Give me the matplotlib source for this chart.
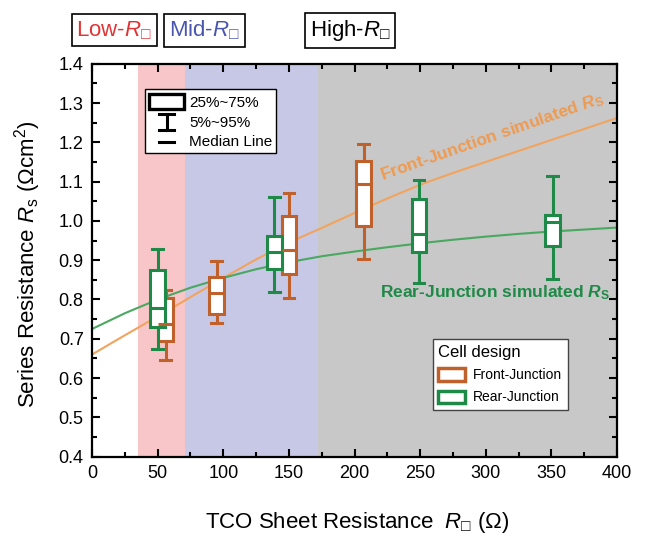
import matplotlib
matplotlib.use('Agg')
import matplotlib.pyplot as plt
from matplotlib.patches import Rectangle, Patch
from matplotlib.lines import Line2D
from matplotlib.ticker import MultipleLocator

plt.rcParams['font.family'] = ['Liberation Sans', 'DejaVu Sans']
plt.rcParams['mathtext.fontset'] = 'custom'
plt.rcParams['mathtext.rm'] = 'Liberation Sans'
plt.rcParams['mathtext.it'] = 'Liberation Sans:italic'
plt.rcParams['mathtext.bf'] = 'Liberation Sans:bold'
plt.rcParams['mathtext.bfit'] = 'Liberation Sans:italic:bold'
plt.rcParams['mathtext.fallback'] = 'stixsans'

# simulated Rs curves
sim_x = [0, 25, 50, 75, 100, 125, 150, 175, 200, 225, 250, 275, 300, 325, 350, 375, 400]
front_sim = [0.660, 0.709, 0.757, 0.806, 0.855, 0.902, 0.945, 0.982, 1.020, 1.057, 1.092,
             1.122, 1.150, 1.178, 1.206, 1.234, 1.262]
rear_sim = [0.725, 0.765, 0.800, 0.830, 0.855, 0.877, 0.895, 0.910, 0.922, 0.933, 0.943,
            0.952, 0.960, 0.967, 0.973, 0.978, 0.983]

# measured box plots: 5%, 25%, median, 75%, 95%
front_x = [56, 95, 150, 207]
front_lo = [0.645, 0.740, 0.803, 0.902]
front_q1 = [0.694, 0.763, 0.866, 0.986]
front_med = [0.737, 0.816, 0.927, 1.094]
front_q3 = [0.803, 0.858, 1.012, 1.152]
front_hi = [0.825, 0.899, 1.071, 1.195]

rear_x = [50, 139, 249, 351]
rear_lo = [0.675, 0.819, 0.843, 0.853]
rear_q1 = [0.731, 0.877, 0.922, 0.937]
rear_med = [0.778, 0.921, 0.966, 0.996]
rear_q3 = [0.876, 0.962, 1.056, 1.016]
rear_hi = [0.929, 1.060, 1.105, 1.113]

# Rsheet regimes
region_edges = [35, 71, 172.5, 400]
region_names = ['Low', 'Mid', 'High']

orange = '#c0602a'
green = '#1f8a48'
orange_line = '#f2a45e'
green_line = '#4aa860'
region_colors = ['#f8c6c8', '#c6c8e6', '#c8c8c8']
region_text_colors = ['#e03535', '#4a55b0', 'black']


def make_stats(lo, q1, med, q3, hi):
    return [dict(whislo=a, q1=b, med=c, q3=d, whishi=e, fliers=[])
            for a, b, c, d, e in zip(lo, q1, med, q3, hi)]


fig = plt.figure(figsize=(6.64, 5.4), dpi=100)
ax = fig.add_axes([0.1386, 0.1543, 0.7906, 0.7277])

for i in range(3):
    ax.axvspan(region_edges[i], region_edges[i + 1], color=region_colors[i], lw=0, zorder=0)

ax.plot(sim_x, front_sim, color=orange_line, lw=1.5, zorder=2)
ax.plot(sim_x, rear_sim, color=green_line, lw=1.5, zorder=2)

for stats, xs, c in [(make_stats(front_lo, front_q1, front_med, front_q3, front_hi), front_x, orange),
                     (make_stats(rear_lo, rear_q1, rear_med, rear_q3, rear_hi), rear_x, green)]:
    ax.bxp(stats, positions=xs, widths=11, capwidths=8, patch_artist=True, showfliers=False,
           boxprops=dict(facecolor='white', edgecolor=c, linewidth=2.2),
           whiskerprops=dict(color=c, linewidth=2.2),
           capprops=dict(color=c, linewidth=2.2),
           medianprops=dict(color=c, linewidth=2.2),
           manage_ticks=False, zorder=4)

ax.set_xlim(0, 400)
ax.set_ylim(0.4, 1.4)
ax.xaxis.set_major_locator(MultipleLocator(50))
ax.xaxis.set_minor_locator(MultipleLocator(25))
ax.yaxis.set_major_locator(MultipleLocator(0.1))
ax.yaxis.set_minor_locator(MultipleLocator(0.05))
ax.yaxis.set_major_formatter(matplotlib.ticker.FormatStrFormatter('%.1f'))
ax.tick_params(which='both', direction='in', top=True, right=True, width=1.5)
ax.tick_params(which='major', length=6, labelsize=13, pad=6)
ax.tick_params(which='minor', length=3.5)
for s in ax.spines.values():
    s.set_linewidth(1.6)

ax.set_ylabel(r'Series Resistance $R_\mathrm{s}$ ($\Omega$cm$^2$)', fontsize=16)
ax.yaxis.set_label_coords(-0.093, 0.49)
ax.set_xlabel('TCO Sheet Resistance  $R_{□}$ ($\\Omega$)', fontsize=16)
ax.xaxis.set_label_coords(0.505, -0.135)

# curve annotations
ax.text(305, 1.214, r'Front-Junction simulated $\mathbfit{R}_\mathbf{S}$', color='#ef9a50',
        fontsize=12.5, fontweight='bold', rotation=19.3, rotation_mode='anchor',
        ha='center', va='center', zorder=3)
ax.text(307, 0.817, r'Rear-Junction simulated $\mathbfit{R}_\mathbf{S}$', color=green,
        fontsize=12.5, fontweight='bold', ha='center', va='center', zorder=3)

# box plot key
def fx(px):
    return (px - 92) / 525.0


def fy(py):
    return (456.7 - py) / 393.0


tr = ax.transAxes
ax.add_patch(Rectangle((fx(145), fy(153)), fx(276) - fx(145), fy(89) - fy(153), transform=tr,
                       facecolor='white', edgecolor='black', lw=1.0, zorder=5))
ax.add_patch(Rectangle((fx(149), fy(109.3)), fx(184) - fx(149), fy(94.3) - fy(109.3), transform=tr,
                       facecolor='white', edgecolor='black', lw=2.4, zorder=6))
ax.add_line(Line2D([fx(166.5), fx(166.5)], [fy(114), fy(130)], transform=tr, color='black', lw=2.2, zorder=6))
ax.add_line(Line2D([fx(159), fx(174)], [fy(114), fy(114)], transform=tr, color='black', lw=2.2, zorder=6))
ax.add_line(Line2D([fx(159), fx(174)], [fy(130), fy(130)], transform=tr, color='black', lw=2.2, zorder=6))
ax.add_line(Line2D([fx(159), fx(174)], [fy(141.7), fy(141.7)], transform=tr, color='black', lw=2.2, zorder=6))
for label, py in [('25%~75%', 102.7), ('5%~95%', 122.7), ('Median Line', 141.7)]:
    ax.text(fx(189), fy(py), label, transform=tr, fontsize=11, ha='left', va='center', zorder=6)

# cell design legend
handles = [Patch(facecolor='white', edgecolor=orange, linewidth=2.5, label='Front-Junction'),
           Patch(facecolor='white', edgecolor=green, linewidth=2.5, label='Rear-Junction')]
leg = ax.legend(handles=handles, title='Cell design', loc='lower left', bbox_to_anchor=(0.636, 0.101),
                fontsize=10, title_fontsize=12, alignment='left', fancybox=False, framealpha=1,
                edgecolor='#444444', handlelength=1.9, handleheight=1.0, borderpad=0.4,
                labelspacing=0.6, handletextpad=0.6)
leg.get_frame().set_linewidth(1.0)
leg.set_zorder(7)

# regime labels above the plot
for name, c, xf in zip(region_names, region_text_colors, [0.172, 0.308, 0.527]):
    fig.text(xf, 0.944, name + '-$R_{□}$', color=c, fontsize=16, ha='center', va='center',
             bbox=dict(boxstyle='square,pad=0.22', facecolor='white', edgecolor='black', lw=1.2))

fig.savefig('out.png', dpi=100)
